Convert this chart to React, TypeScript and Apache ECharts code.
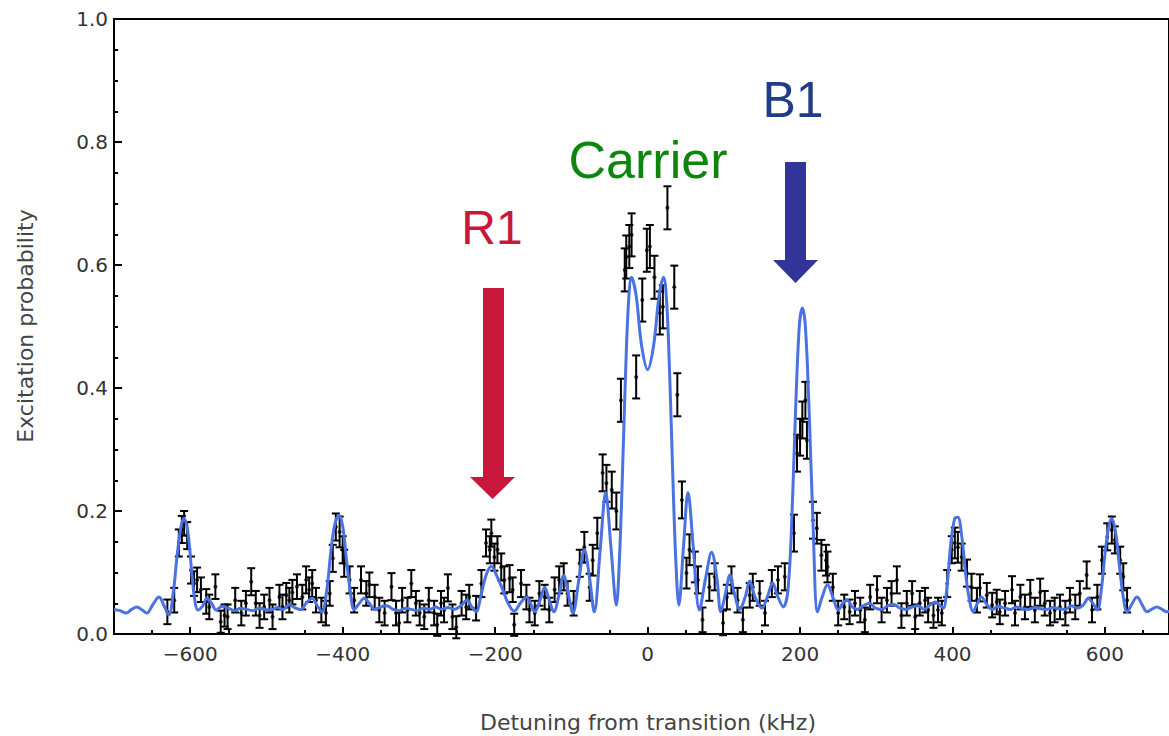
import React, { useEffect, useRef } from "react";
import * as echarts from "echarts";

// ---- Data ----
// Axis tick values
const xMajorTicks = [-600, -400, -200, 0, 200, 400, 600];
const xMinorTicks = [-650, -550, -450, -350, -250, -150, -50, 50, 150, 250, 350, 450, 550, 650];

// Measured excitation probability: [detuning kHz, probability, half error bar]
const measured: [number, number, number][] = [
  [-630, 0.036, 0.02], [-621, 0.055, 0.02], [-615, 0.148, 0.022], [-611, 0.17, 0.022], [-608, 0.18, 0.02],
  [-604, 0.16, 0.022], [-599, 0.104, 0.022], [-595, 0.082, 0.02], [-591, 0.088, 0.02], [-586, 0.072, 0.02],
  [-579, 0.053, 0.02], [-575, 0.044, 0.02], [-567, 0.077, 0.02], [-560, 0.02, 0.018], [-555, 0.03, 0.018],
  [-551, 0.028, 0.02], [-541, 0.055, 0.02], [-533, 0.034, 0.02], [-527, 0.05, 0.02], [-520, 0.085, 0.022],
  [-514, 0.05, 0.02], [-509, 0.03, 0.02], [-503, 0.044, 0.02], [-496, 0.055, 0.02], [-492, 0.028, 0.02],
  [-483, 0.06, 0.02], [-479, 0.044, 0.02], [-474, 0.063, 0.02], [-470, 0.055, 0.02], [-466, 0.068, 0.02],
  [-460, 0.077, 0.02], [-453, 0.06, 0.02], [-448, 0.088, 0.022], [-444, 0.072, 0.02], [-440, 0.082, 0.022],
  [-435, 0.055, 0.02], [-428, 0.039, 0.02], [-422, 0.034, 0.02], [-417, 0.066, 0.02], [-413, 0.123, 0.022],
  [-409, 0.174, 0.022], [-404, 0.166, 0.025], [-400, 0.137, 0.022], [-398, 0.115, 0.022], [-391, 0.088, 0.022],
  [-385, 0.055, 0.02], [-376, 0.088, 0.022], [-369, 0.066, 0.02], [-365, 0.08, 0.02], [-358, 0.06, 0.02],
  [-352, 0.039, 0.02], [-345, 0.034, 0.02], [-336, 0.077, 0.022], [-330, 0.034, 0.02], [-326, 0.018, 0.018],
  [-322, 0.055, 0.02], [-315, 0.039, 0.02], [-310, 0.082, 0.022], [-304, 0.05, 0.02], [-299, 0.034, 0.02],
  [-293, 0.028, 0.02], [-287, 0.055, 0.02], [-280, 0.034, 0.02], [-276, 0.015, 0.018], [-271, 0.05, 0.02],
  [-267, 0.039, 0.02], [-262, 0.075, 0.022], [-256, 0.028, 0.02], [-251, 0.011, 0.018], [-244, 0.05, 0.02],
  [-238, 0.044, 0.02], [-234, 0.06, 0.02], [-225, 0.042, 0.02], [-218, 0.082, 0.022], [-212, 0.148, 0.022],
  [-207, 0.137, 0.022], [-205, 0.164, 0.022], [-201, 0.125, 0.022], [-197, 0.137, 0.022], [-192, 0.109, 0.022],
  [-188, 0.088, 0.022], [-181, 0.09, 0.022], [-177, 0.072, 0.02], [-175, 0.015, 0.018], [-166, 0.082, 0.022],
  [-159, 0.06, 0.02], [-155, 0.039, 0.02], [-148, 0.034, 0.02], [-142, 0.066, 0.02], [-135, 0.06, 0.02],
  [-129, 0.039, 0.02], [-122, 0.072, 0.02], [-116, 0.088, 0.022], [-110, 0.093, 0.022], [-105, 0.066, 0.02],
  [-97, 0.05, 0.02], [-89, 0.115, 0.022], [-83, 0.141, 0.025], [-76, 0.076, 0.022], [-72, 0.12, 0.025],
  [-66, 0.164, 0.025], [-59, 0.262, 0.03], [-54, 0.245, 0.03], [-47, 0.234, 0.03], [-41, 0.2, 0.03],
  [-35, 0.38, 0.035], [-30, 0.592, 0.035], [-28, 0.613, 0.035], [-24, 0.63, 0.035], [-21, 0.649, 0.035],
  [-15, 0.418, 0.035], [-7, 0.543, 0.035], [-1, 0.624, 0.035], [3, 0.63, 0.035], [9, 0.58, 0.035],
  [16, 0.522, 0.035], [20, 0.532, 0.035], [26, 0.693, 0.035], [35, 0.564, 0.035], [39, 0.389, 0.035],
  [45, 0.218, 0.03], [51, 0.099, 0.025], [55, 0.137, 0.025], [62, 0.109, 0.025], [66, 0.088, 0.022],
  [72, 0.023, 0.02], [81, 0.076, 0.022], [88, 0.093, 0.022], [99, 0.018, 0.02], [104, 0.06, 0.02],
  [110, 0.088, 0.022], [118, 0.055, 0.02], [125, 0.023, 0.02], [134, 0.063, 0.02], [138, 0.076, 0.022],
  [147, 0.066, 0.02], [154, 0.034, 0.02], [163, 0.082, 0.022], [171, 0.088, 0.022], [180, 0.093, 0.022],
  [192, 0.164, 0.03], [196, 0.294, 0.03], [200, 0.32, 0.03], [203, 0.348, 0.03], [207, 0.38, 0.03],
  [209, 0.315, 0.03], [217, 0.185, 0.03], [222, 0.172, 0.025], [228, 0.128, 0.025], [234, 0.12, 0.025],
  [236, 0.109, 0.025], [243, 0.076, 0.022], [250, 0.034, 0.02], [258, 0.044, 0.02], [265, 0.036, 0.02],
  [272, 0.05, 0.02], [279, 0.039, 0.02], [285, 0.023, 0.02], [292, 0.06, 0.02], [301, 0.072, 0.022],
  [307, 0.039, 0.02], [314, 0.055, 0.02], [320, 0.066, 0.02], [327, 0.088, 0.022], [333, 0.03, 0.02],
  [340, 0.05, 0.02], [347, 0.066, 0.02], [351, 0.028, 0.02], [357, 0.05, 0.02], [364, 0.055, 0.02],
  [368, 0.039, 0.02], [375, 0.03, 0.02], [381, 0.039, 0.02], [386, 0.034, 0.02], [393, 0.082, 0.022],
  [399, 0.137, 0.022], [403, 0.148, 0.025], [407, 0.141, 0.025], [412, 0.125, 0.022], [419, 0.099, 0.022],
  [425, 0.076, 0.022], [432, 0.055, 0.02], [436, 0.075, 0.022], [445, 0.063, 0.02], [452, 0.047, 0.02],
  [458, 0.052, 0.02], [462, 0.036, 0.02], [469, 0.05, 0.02], [478, 0.072, 0.022], [482, 0.034, 0.02],
  [489, 0.06, 0.02], [495, 0.044, 0.02], [502, 0.066, 0.022], [508, 0.039, 0.02], [515, 0.068, 0.022],
  [521, 0.05, 0.02], [528, 0.034, 0.02], [534, 0.039, 0.02], [541, 0.044, 0.02], [548, 0.034, 0.02],
  [554, 0.055, 0.02], [561, 0.044, 0.02], [567, 0.066, 0.02], [576, 0.096, 0.022], [583, 0.039, 0.02],
  [590, 0.06, 0.02], [596, 0.12, 0.022], [603, 0.158, 0.022], [609, 0.169, 0.022], [613, 0.153, 0.022],
  [620, 0.12, 0.022], [624, 0.093, 0.022], [629, 0.055, 0.02],
];

// Fitted theory curve: [detuning kHz, probability]
const fitCurve: [number, number][] = [
  [-700, 0.04], [-692, 0.038], [-684, 0.034], [-677, 0.04], [-670, 0.044], [-663, 0.039], [-657, 0.034],
  [-649, 0.048], [-641, 0.06], [-634, 0.045], [-628, 0.031], [-622, 0.07], [-617, 0.13], [-612, 0.175],
  [-608, 0.188], [-603, 0.165], [-598, 0.1], [-594, 0.055], [-590, 0.039], [-584, 0.045], [-578, 0.058],
  [-572, 0.05], [-566, 0.039], [-558, 0.045], [-550, 0.042], [-542, 0.038], [-534, 0.042], [-526, 0.04],
  [-518, 0.038], [-510, 0.042], [-502, 0.04], [-494, 0.039], [-486, 0.043], [-478, 0.04], [-470, 0.048],
  [-462, 0.042], [-455, 0.04], [-448, 0.05], [-440, 0.058], [-433, 0.045], [-427, 0.036], [-421, 0.07],
  [-415, 0.14], [-410, 0.18], [-405, 0.193], [-400, 0.175], [-395, 0.12], [-390, 0.07], [-385, 0.04],
  [-378, 0.05], [-372, 0.058], [-365, 0.05], [-358, 0.04], [-350, 0.044], [-342, 0.046], [-334, 0.04],
  [-326, 0.038], [-318, 0.042], [-310, 0.04], [-302, 0.038], [-294, 0.042], [-286, 0.04], [-278, 0.044],
  [-270, 0.04], [-262, 0.043], [-254, 0.04], [-245, 0.046], [-237, 0.055], [-231, 0.045], [-225, 0.036],
  [-219, 0.06], [-212, 0.095], [-205, 0.11], [-198, 0.095], [-191, 0.075], [-183, 0.05], [-175, 0.037],
  [-167, 0.05], [-159, 0.06], [-153, 0.048], [-148, 0.036], [-141, 0.055], [-135, 0.076], [-129, 0.055],
  [-123, 0.036], [-116, 0.065], [-110, 0.095], [-104, 0.065], [-98, 0.034], [-90, 0.09], [-83, 0.137],
  [-76, 0.09], [-70, 0.036], [-62, 0.14], [-55, 0.23], [-48, 0.14], [-41, 0.047], [-37, 0.12],
  [-33, 0.26], [-29, 0.42], [-25, 0.54], [-21, 0.58], [-15, 0.55], [-8, 0.47], [0, 0.43], [8, 0.47],
  [15, 0.55], [21, 0.58], [25, 0.54], [29, 0.42], [33, 0.26], [37, 0.12], [41, 0.047], [47, 0.14],
  [53, 0.23], [60, 0.14], [68, 0.039], [76, 0.09], [84, 0.133], [91, 0.09], [96, 0.036], [102, 0.065],
  [108, 0.096], [114, 0.065], [121, 0.04], [128, 0.06], [134, 0.086], [141, 0.06], [150, 0.042],
  [157, 0.06], [164, 0.083], [171, 0.06], [178, 0.044], [184, 0.07], [189, 0.18], [194, 0.36],
  [199, 0.5], [203, 0.53], [207, 0.5], [212, 0.36], [217, 0.18], [223, 0.036], [229, 0.06], [236, 0.08],
  [243, 0.06], [250, 0.039], [256, 0.05], [262, 0.055], [268, 0.045], [275, 0.04], [283, 0.046],
  [291, 0.05], [299, 0.042], [307, 0.04], [315, 0.046], [323, 0.048], [331, 0.042], [339, 0.04],
  [347, 0.044], [355, 0.046], [363, 0.04], [371, 0.048], [378, 0.052], [384, 0.046], [388, 0.042],
  [393, 0.08], [398, 0.15], [403, 0.188], [407, 0.19], [412, 0.16], [418, 0.09], [423, 0.05], [427, 0.036],
  [432, 0.048], [438, 0.06], [445, 0.048], [452, 0.04], [460, 0.045], [468, 0.042], [476, 0.04],
  [484, 0.044], [492, 0.041], [500, 0.04], [508, 0.043], [516, 0.041], [524, 0.04], [532, 0.043],
  [540, 0.041], [548, 0.04], [556, 0.046], [564, 0.042], [572, 0.048], [578, 0.058], [584, 0.05],
  [590, 0.039], [595, 0.07], [600, 0.13], [605, 0.175], [609, 0.188], [614, 0.165], [619, 0.11],
  [624, 0.06], [629, 0.036], [635, 0.048], [642, 0.06], [649, 0.047], [655, 0.036], [661, 0.04],
  [668, 0.044], [675, 0.04], [681, 0.036], [688, 0.038], [695, 0.04], [700, 0.04],
];

// Visible x range (the right end of the frame is cut off by the picture edge)
const X_MIN = -700;
const X_MAX = 684;

const FONT = "DejaVu Sans";
const LABEL_COLOR = "#333";
const FIT_COLOR = "#4A72E0";
const R1_COLOR = "#C8173B";
const CARRIER_COLOR = "#0E860E";
const B1_TEXT_COLOR = "#1F3C88";
const B1_ARROW_COLOR = "#33349A";

const fmtX = (v: number) => (v < 0 ? "\u2212" + Math.abs(v) : String(v));

export default function App() {
  const ref = useRef<HTMLDivElement>(null);

  useEffect(() => {
    if (!ref.current) return;
    const chart = echarts.init(ref.current, undefined, { renderer: "svg" });

    const option: any = {
      animation: false,
      backgroundColor: "#fff",
      grid: {
        left: 114,
        top: 19,
        right: 0,
        bottom: 102,
        show: true,
        borderColor: "#000",
        borderWidth: 2,
        backgroundColor: "transparent",
      },
      xAxis: [
        {
          type: "value",
          min: X_MIN,
          max: X_MAX,
          position: "bottom",
          axisLine: { show: true, onZero: false, lineStyle: { color: "#000", width: 2 } },
          axisTick: { show: true, inside: true, length: 7, customValues: xMajorTicks, lineStyle: { color: "#000", width: 2 } },
          axisLabel: {
            show: true,
            customValues: xMajorTicks,
            formatter: fmtX,
            fontFamily: FONT,
            fontSize: 20,
            color: LABEL_COLOR,
            margin: 10,
          },
          splitLine: { show: false },
        },
        {
          type: "value",
          min: X_MIN,
          max: X_MAX,
          position: "bottom",
          axisLine: { show: false, onZero: false },
          axisTick: { show: true, inside: true, length: 4, customValues: xMinorTicks, lineStyle: { color: "#000", width: 2 } },
          axisLabel: { show: false, customValues: xMinorTicks },
          splitLine: { show: false },
        },
      ],
      yAxis: {
        type: "value",
        min: 0,
        max: 1,
        interval: 0.2,
        axisLine: { show: true, onZero: false, lineStyle: { color: "#000", width: 2 } },
        axisTick: { show: true, inside: true, length: 8, lineStyle: { color: "#000", width: 2 } },
        minorTick: { show: true, splitNumber: 4, length: 4, lineStyle: { color: "#000", width: 2 } },
        axisLabel: {
          formatter: (v: number) => v.toFixed(1),
          fontFamily: FONT,
          fontSize: 20,
          color: LABEL_COLOR,
          margin: 6,
        },
        splitLine: { show: false },
      },
      series: [
        {
          type: "custom",
          xAxisIndex: 0,
          yAxisIndex: 0,
          data: measured.map(([x, y, e]) => [x, y - e, y + e]),
          encode: { x: 0, y: [1, 2] },
          z: 3,
          renderItem: (params: any, api: any) => {
            const x = api.value(0);
            const top = api.coord([x, api.value(2)]);
            const bot = api.coord([x, api.value(1)]);
            const hw = 4;
            const st = { stroke: "#000", lineWidth: 2 };
            return {
              type: "group",
              children: [
                { type: "line", shape: { x1: top[0], y1: top[1], x2: bot[0], y2: bot[1] }, style: st },
                { type: "line", shape: { x1: top[0] - hw, y1: top[1], x2: top[0] + hw, y2: top[1] }, style: st },
                { type: "line", shape: { x1: bot[0] - hw, y1: bot[1], x2: bot[0] + hw, y2: bot[1] }, style: st },
              ],
            };
          },
        },
        {
          type: "scatter",
          xAxisIndex: 0,
          yAxisIndex: 0,
          data: measured.map(([x, y]) => [x, y]),
          symbol: "circle",
          symbolSize: 4,
          itemStyle: { color: "#000" },
          z: 4,
        },
        {
          type: "line",
          xAxisIndex: 0,
          yAxisIndex: 0,
          data: fitCurve,
          smooth: 0.35,
          showSymbol: false,
          symbol: "none",
          lineStyle: { color: FIT_COLOR, width: 3 },
          z: 5,
        },
      ],
      graphic: [
        {
          type: "text",
          x: 25,
          y: 326,
          rotation: Math.PI / 2,
          style: {
            text: "Excitation probability",
            fontFamily: FONT,
            fontSize: 22,
            fill: "#444",
            align: "center",
            verticalAlign: "middle",
          },
        },
        {
          type: "text",
          x: 648,
          y: 722,
          style: {
            text: "Detuning from transition (kHz)",
            fontFamily: FONT,
            fontSize: 22,
            fill: "#444",
            align: "center",
            verticalAlign: "middle",
          },
        },
        // R1 arrow + label
        { type: "rect", shape: { x: 483, y: 288, width: 21, height: 190 }, style: { fill: R1_COLOR } },
        { type: "polygon", shape: { points: [[470, 477], [515, 477], [492.5, 499]] }, style: { fill: R1_COLOR } },
        {
          type: "text",
          x: 492,
          y: 227,
          style: { text: "R1", fontFamily: "Liberation Sans", fontSize: 48, fill: R1_COLOR, align: "center", verticalAlign: "middle" },
        },
        // Carrier label
        {
          type: "text",
          x: 648,
          y: 160,
          style: { text: "Carrier", fontFamily: "Liberation Sans", fontSize: 52, fill: CARRIER_COLOR, align: "center", verticalAlign: "middle" },
        },
        // B1 arrow + label
        { type: "rect", shape: { x: 785, y: 162, width: 21, height: 99 }, style: { fill: B1_ARROW_COLOR } },
        { type: "polygon", shape: { points: [[773, 260], [818, 260], [795.5, 283]] }, style: { fill: B1_ARROW_COLOR } },
        {
          type: "text",
          x: 793,
          y: 100,
          style: { text: "B1", fontFamily: "Liberation Sans", fontSize: 50, fill: B1_TEXT_COLOR, align: "center", verticalAlign: "middle" },
        },
      ],
    };

    chart.setOption(option);
    return () => chart.dispose();
  }, []);

  return (
    <div
      ref={ref}
      style={{ position: "absolute", left: 0, top: 0, width: 1169, height: 736, background: "#fff" }}
    />
  );
}
